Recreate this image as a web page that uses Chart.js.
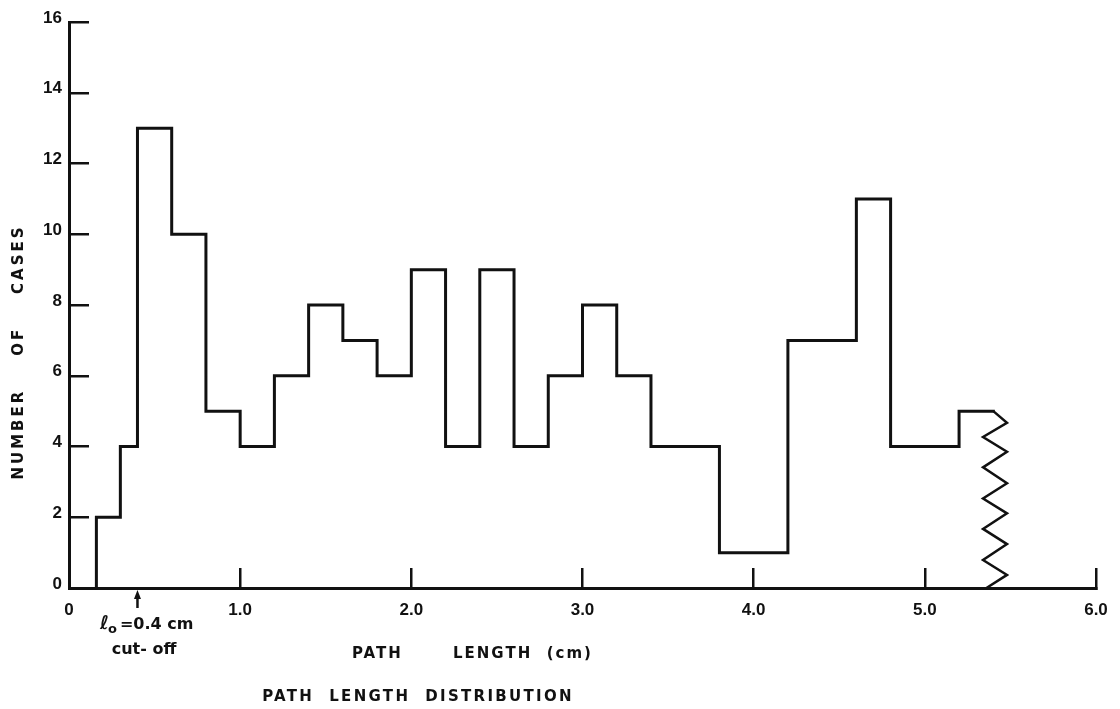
<!DOCTYPE html>
<html>
<head>
<meta charset="utf-8">
<script src="https://cdn.jsdelivr.net/npm/chart.js@4.4.1/dist/chart.umd.min.js"></script>
<style>
html,body{margin:0;padding:0;background:#fff;}
#wrap{width:1120px;height:709px;position:relative;}
canvas{display:block;}
</style>
</head>
<body>
<div id="wrap"><canvas id="c" width="1120" height="709"></canvas></div>
<script>
// ---- data ----
const binEdges = [0.16, 0.3, 0.4, 0.6, 0.8, 1.0, 1.2, 1.4, 1.6, 1.8, 2.0, 2.2, 2.4, 2.6, 2.8, 3.0, 3.2, 3.4, 3.8, 4.2, 4.6, 4.8, 5.2, 5.4];
const counts   = [2, 4, 13, 10, 5, 4, 6, 8, 7, 6, 9, 4, 9, 4, 6, 8, 6, 4, 1, 7, 11, 4, 5];
const xTickValues = [0, 1, 2, 3, 4, 5, 6];
const xTickLabels = ['0', '1.0', '2.0', '3.0', '4.0', '5.0', '6.0'];
const yTickValues = [0, 2, 4, 6, 8, 10, 12, 14, 16];
const yTickLabels = ['0', '2', '4', '6', '8', '10', '12', '14', '16'];
// broken-axis zigzag at the end of the last bin
const breakX = [5.40, 5.48, 5.34, 5.48, 5.34, 5.48, 5.34, 5.48, 5.34, 5.48, 5.34, 5.48, 5.36];
const breakY = [5.00, 4.67, 4.27, 3.85, 3.41, 2.96, 2.53, 2.11, 1.67, 1.24, 0.79, 0.37, 0.00];
const cutoffValue = 0.4;

const INK = '#111111';

// build step outline from the bins
const histPoints = [{x: binEdges[0], y: 0}];
counts.forEach((c, i) => {
  histPoints.push({x: binEdges[i], y: c});
  histPoints.push({x: binEdges[i + 1], y: c});
});
const breakPoints = breakX.map((x, i) => ({x: x, y: breakY[i]}));

const annot = {
  id: 'annot',
  afterDraw(chart) {
    const {ctx, scales: {x, y}} = chart;
    ctx.save();
    ctx.fillStyle = INK;
    ctx.strokeStyle = INK;

    // cut-off arrow
    const ax = x.getPixelForValue(cutoffValue);
    const ay = y.getPixelForValue(0);
    ctx.lineWidth = 2.5;
    ctx.beginPath();
    ctx.moveTo(ax, ay + 20);
    ctx.lineTo(ax, ay + 6);
    ctx.stroke();
    ctx.beginPath();
    ctx.moveTo(ax, ay + 2);
    ctx.lineTo(ax - 3.5, ay + 11);
    ctx.lineTo(ax + 3.5, ay + 11);
    ctx.closePath();
    ctx.fill();

    // l0 = 0.4 cm
    ctx.textBaseline = 'middle';
    ctx.textAlign = 'left';
    ctx.font = 'bold italic 19px "DejaVu Sans"';
    let tx = 100;
    ctx.fillText('\u2113', tx, 624);
    tx += ctx.measureText('\u2113').width - 1;
    ctx.font = 'bold 13px "DejaVu Sans"';
    ctx.fillText('o', tx, 630);
    tx += ctx.measureText('o').width + 3;
    ctx.font = 'bold 16px "DejaVu Sans"';
    ctx.fillText('=0.4 cm', tx, 625);
    ctx.textAlign = 'center';
    ctx.fillText('cut- off', 144, 650);

    // axis title
    ctx.font = 'bold 15px "DejaVu Sans"';
    ctx.letterSpacing = '2px';
    ctx.textAlign = 'left';
    ctx.fillText('PATH', 352, 654);
    ctx.fillText('LENGTH  (cm)', 453, 654);

    // chart title
    ctx.font = 'bold 15px "DejaVu Sans"';
    ctx.letterSpacing = '2.3px';
    ctx.textAlign = 'center';
    ctx.fillText('PATH  LENGTH  DISTRIBUTION', 418, 697);

    // y axis title
    ctx.save();
    ctx.translate(19, 352);
    ctx.rotate(-Math.PI / 2);
    ctx.font = 'bold 15px "DejaVu Sans"';
    ctx.letterSpacing = '3px';
    ctx.textAlign = 'center';
    ctx.fillText('NUMBER    OF    CASES', 0, 0);
    ctx.restore();

    ctx.restore();
  }
};

new Chart(document.getElementById('c'), {
  type: 'scatter',
  data: {
    datasets: [
      {data: histPoints, showLine: true, borderColor: INK, borderWidth: 3, pointRadius: 0,
       fill: false, tension: 0, clip: false, borderJoinStyle: 'miter', borderCapStyle: 'square'},
      {data: breakPoints, showLine: true, borderColor: INK, borderWidth: 2.5, pointRadius: 0,
       fill: false, tension: 0, clip: false, borderJoinStyle: 'miter'}
    ]
  },
  options: {
    responsive: false,
    animation: false,
    devicePixelRatio: 1,
    events: [],
    layout: {padding: {left: 0, top: 22, right: 24, bottom: 0}},
    plugins: {legend: {display: false}, tooltip: {enabled: false}, title: {display: false}},
    scales: {
      x: {
        type: 'linear', min: 0, max: 6,
        afterBuildTicks: s => { s.ticks = xTickValues.map(v => ({value: v})); },
        afterFit: s => { s.height = 121; s.paddingLeft = 0; s.paddingRight = 0; s.paddingTop = 0; s.paddingBottom = 0; },
        grid: {display: true, drawOnChartArea: false, drawTicks: true, tickLength: -20, color: INK, lineWidth: 2.5},
        border: {display: true, color: INK, width: 3},
        ticks: {padding: 32, color: INK, font: {family: 'Liberation Sans', size: 17, weight: 'bold'}, maxRotation: 0, autoSkip: false,
                callback: v => xTickLabels[xTickValues.indexOf(v)]}
      },
      y: {
        type: 'linear', min: 0, max: 16,
        afterBuildTicks: s => { s.ticks = yTickValues.map(v => ({value: v})); },
        afterFit: s => { s.width = 69; s.paddingLeft = 0; s.paddingRight = 0; s.paddingTop = 0; s.paddingBottom = 0; },
        grid: {display: true, drawOnChartArea: false, drawTicks: true, tickLength: -20, color: INK, lineWidth: 2.5},
        border: {display: true, color: INK, width: 3},
        ticks: {padding: 27, labelOffset: -4, color: INK, font: {family: 'Liberation Sans', size: 17, weight: 'bold'}, autoSkip: false,
                callback: v => yTickLabels[yTickValues.indexOf(v)]}
      }
    }
  },
  plugins: [annot]
});
</script>
</body>
</html>
